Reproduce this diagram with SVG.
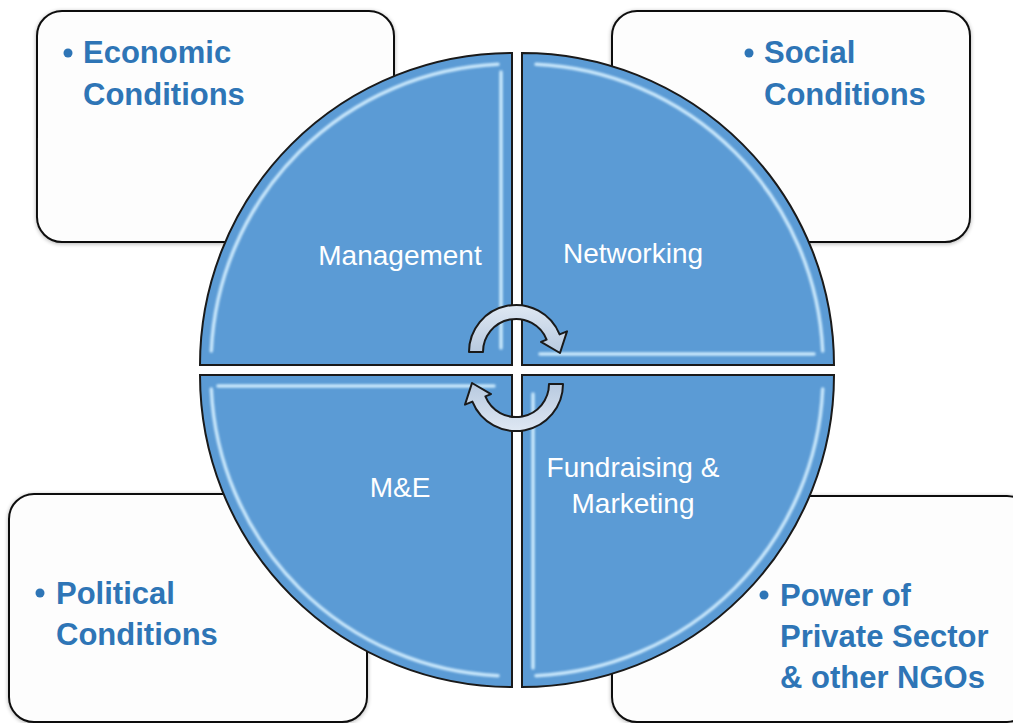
<svg xmlns="http://www.w3.org/2000/svg" width="1013" height="723" viewBox="0 0 1013 723">
<defs>
<style>
.box{fill:#fdfdfd;stroke:#111;stroke-width:2}
.quad{fill:#5b9bd5;stroke:#1a1a1a;stroke-width:2}
.bevel{fill:none;stroke:#d4efff;stroke-width:3.5;stroke-linecap:round;opacity:0.9}
.qlabel{font-family:"Liberation Sans",Arial,sans-serif;font-size:28px;fill:#ffffff;text-anchor:middle}
.blabel{font-family:"Liberation Sans",Arial,sans-serif;font-size:31px;font-weight:bold;fill:#2e75b6}
.bullet{fill:#2e75b6}
.arrow{fill:url(#ag);stroke:#1a1a1a;stroke-width:2;stroke-linejoin:round}
</style>
<linearGradient id="ag" x1="0" y1="0" x2="0" y2="1">
<stop offset="0" stop-color="#dfe8f3"/>
<stop offset="1" stop-color="#b7c9df"/>
</linearGradient>
<filter id="soft" x="-5%" y="-5%" width="110%" height="110%">
<feGaussianBlur stdDeviation="1.3"/>
</filter>
<filter id="shadow" x="-5%" y="-5%" width="110%" height="110%">
<feGaussianBlur in="SourceAlpha" stdDeviation="2"/>
<feOffset dx="0" dy="1" result="b"/>
<feComponentTransfer><feFuncA type="linear" slope="0.3"/></feComponentTransfer>
<feMerge><feMergeNode/><feMergeNode in="SourceGraphic"/></feMerge>
</filter>
</defs>
<rect width="1013" height="723" fill="#ffffff"/>

<g id="box-economic">
<rect class="box" x="37" y="11" width="357" height="231" rx="25" filter="url(#shadow)"/>
<circle class="bullet" cx="68" cy="53" r="4.5"/>
<text class="blabel" x="83" y="63">Economic</text>
<text class="blabel" x="83" y="105">Conditions</text>
</g>
<g id="box-social">
<rect class="box" x="612" y="11" width="358" height="231" rx="25" filter="url(#shadow)"/>
<circle class="bullet" cx="749" cy="53" r="4.5"/>
<text class="blabel" x="764" y="63">Social</text>
<text class="blabel" x="764" y="105">Conditions</text>
</g>
<g id="box-political">
<rect class="box" x="9" y="494" width="358" height="228" rx="25" filter="url(#shadow)"/>
<circle class="bullet" cx="40" cy="593" r="4.5"/>
<text class="blabel" x="56" y="604">Political</text>
<text class="blabel" x="56" y="645">Conditions</text>
</g>
<g id="box-power">
<rect class="box" x="612" y="496" width="420" height="226" rx="25" filter="url(#shadow)"/>
<circle class="bullet" cx="764" cy="595" r="4.5"/>
<text class="blabel" x="780" y="606">Power of</text>
<text class="blabel" x="780" y="647">Private Sector</text>
<text class="blabel" x="780" y="688">&amp; other NGOs</text>
</g>

<g id="quad-management">
<path class="quad" d="M 512 365 L 200 365 A 312 312 0 0 1 512 53 Z"/>
<path class="bevel" filter="url(#soft)" d="M 501 72 L 501 348 M 498 64.3 A 301 301 0 0 0 211.3 351"/>
<text class="qlabel" x="400" y="265">Management</text>
</g>
<g id="quad-networking">
<path class="quad" d="M 522 365 L 522 53 A 312 312 0 0 1 834 365 Z"/>
<path class="bevel" filter="url(#soft)" d="M 536 64.3 A 301 301 0 0 1 822.7 351 M 540 354 L 814 354"/>
<text class="qlabel" x="633" y="263">Networking</text>
</g>
<g id="quad-me">
<path class="quad" d="M 512 375 L 512 687 A 312 312 0 0 1 200 375 Z"/>
<path class="bevel" filter="url(#soft)" d="M 218 386 L 494 386 M 211.3 389 A 301 301 0 0 0 498 675.7"/>
<text class="qlabel" x="400" y="497">M&amp;E</text>
</g>
<g id="quad-fundraising">
<path class="quad" d="M 522 375 L 834 375 A 312 312 0 0 1 522 687 Z"/>
<path class="bevel" filter="url(#soft)" d="M 533 394 L 533 668 M 822.7 389 A 301 301 0 0 1 536 675.7"/>
<text class="qlabel" x="633" y="477">Fundraising &amp;</text>
<text class="qlabel" x="633" y="513">Marketing</text>
</g>

<g id="connectors">
<path id="arrow-top" class="arrow" d="M 469 352 A 47 47 0 0 1 559.6 334.4 L 567 331.4 L 560 353 L 541 341.9 L 546.6 339.6 A 33 33 0 0 0 483 352 Z"/>
<path id="arrow-bottom" class="arrow" transform="rotate(180 516 368)" d="M 469 352 A 47 47 0 0 1 559.6 334.4 L 567 331.4 L 560 353 L 541 341.9 L 546.6 339.6 A 33 33 0 0 0 483 352 Z"/>
</g>
</svg>
